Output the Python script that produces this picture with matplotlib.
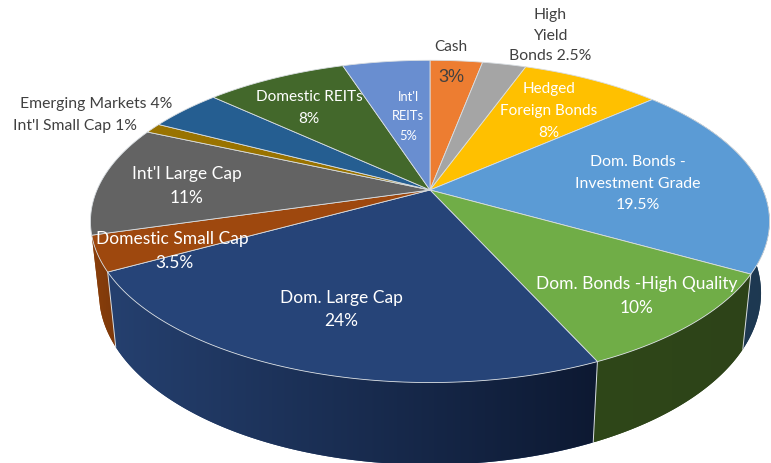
#!/usr/bin/env python3
"""3D-look allocation pie drawn with a perspective projection of the unit circle."""

import matplotlib
matplotlib.use("Agg")
import matplotlib.pyplot as plt
import numpy as np
from matplotlib.colors import LinearSegmentedColormap
from matplotlib.patches import Polygon

plt.rcParams["font.family"] = ["Lato", "DejaVu Sans"]

# starts at 12 o'clock, goes clockwise; slice sizes
names = ["Cash", "High Yield Bonds", "Hedged Foreign Bonds", "Dom. Bonds - Investment Grade",
         "Dom. Bonds -High Quality", "Dom. Large Cap", "Domestic Small Cap", "Int'l Large Cap",
         "Int'l Small Cap", "Emerging Markets", "Domestic REITs", "Int'l REITs"]
values = [3, 2.5, 8, 19.5, 10, 23.7, 3.5, 11, 1, 4.2, 8.1, 5]
colors = ["#ed7d31", "#a5a5a5", "#ffc000", "#5b9bd5", "#70ad47", "#264478",
          "#9e480e", "#636363", "#997300", "#255e91", "#43682b", "#698ed0"]

# wall colours: (left end, right end) of the horizontal shading
wall_left = {3: "#203c5a", 4: "#2f4719", 5: "#25406f", 6: "#8a3f0b"}
wall_right = {3: "#1d3850", 4: "#2d4318", 5: "#0d1932", 6: "#7c380a"}

WHITE = "#ffffff"
DARK = "#404040"
labels = [
    ("Cash", 451, 47, DARK, 11),
    ("High", 550, 15, DARK, 11.3),
    ("Yield", 550, 36, DARK, 11.3),
    ("Bonds 2.5%", 550, 56, DARK, 11.3),
    ("Hedged", 549, 89, WHITE, 11),
    ("Foreign Bonds", 549, 111, WHITE, 11),
    ("8%", 549, 133, WHITE, 11),
    ("Dom. Bonds -", 638, 162, WHITE, 11.4),
    ("Investment Grade", 638, 184, WHITE, 11.4),
    ("19.5%", 638, 205, WHITE, 11.4),
    ("Dom. Bonds -High Quality", 637, 284, WHITE, 12.5),
    ("10%", 637, 308, WHITE, 12.5),
    ("Dom. Large Cap", 341, 298, WHITE, 12.5),
    ("24%", 341, 321, WHITE, 12.5),
    ("Domestic Small Cap", 172, 239, WHITE, 12.5),
    ("3.5%", 174, 263, WHITE, 12.5),
    ("Int'l Large Cap", 187, 174, WHITE, 12.5),
    ("11%", 187, 198, WHITE, 12.5),
    ("Emerging Markets 4%", 96, 104, DARK, 11.3),
    ("Int'l Small Cap 1%", 75, 126, DARK, 11.3),
    ("Domestic REITs", 309, 97, WHITE, 11.1),
    ("8%", 309, 119, WHITE, 11.1),
    ("Int'l", 408, 97, WHITE, 9.3),
    ("REITs", 408, 116, WHITE, 9.3),
    ("5%", 408, 136, WHITE, 9.3),
]

CX, CY = 430, 191
A, B, K = 333, 155, 0.195
EDGE = "#d9dee2"


def project(theta):
    """clockwise angle from top -> pixel position of the rim"""
    x, y = np.sin(theta), np.cos(theta)
    w = 1 + K * y
    return CX + A * x / w, CY - B * y / w


def lower(px, py):
    """rim point -> point on the bottom rim of the wall"""
    depth = 75 + (py - 273) * 0.065
    return CX + (px - CX) * 0.975, py + depth


fig = plt.figure(figsize=(7.71, 4.64), dpi=100)
ax = fig.add_axes([0, 0, 1, 1])

edges = np.cumsum([0] + values) / sum(values) * 2 * np.pi

# walls: a horizontal gradient clipped to the outline of each slice's wall
for i in wall_left:
    th = np.linspace(edges[i], edges[i + 1], 120)
    px, py = project(th)
    qx, qy = lower(px, py)
    outline = np.column_stack([np.r_[px, qx[::-1]], np.r_[py, qy[::-1]]])
    shape = Polygon(outline, closed=True, facecolor=wall_left[i], edgecolor="none", zorder=0.5)
    ax.add_patch(shape)
    cmap = LinearSegmentedColormap.from_list("wall", [wall_left[i], wall_right[i]])
    im = ax.imshow(np.linspace(0, 1, 256).reshape(1, -1), cmap=cmap, aspect="auto", zorder=0.6,
                   extent=(outline[:, 0].min(), outline[:, 0].max(),
                           outline[:, 1].max(), outline[:, 1].min()))
    im.set_clip_path(shape)
    ax.plot([px[0], qx[0]], [py[0], qy[0]], color=EDGE, lw=0.7, zorder=0.7)

# top face
for i in range(len(values)):
    th = np.linspace(edges[i], edges[i + 1], 90)
    px, py = project(th)
    pts = np.column_stack([np.r_[CX, px], np.r_[CY, py]])
    ax.add_patch(Polygon(pts, closed=True, facecolor=colors[i], edgecolor=EDGE, linewidth=0.6, zorder=1))

for text, x, y, col, size in labels:
    ax.text(x, y, text, color=col, fontsize=size, ha="center", va="center", zorder=3)
ax.text(451, 77, "3%", color=DARK, fontsize=13, ha="center", va="center", family="Liberation Sans", zorder=3)

ax.set_xlim(0, 771)
ax.set_ylim(464, 0)
ax.axis("off")

fig.savefig("out.png", dpi=100)
